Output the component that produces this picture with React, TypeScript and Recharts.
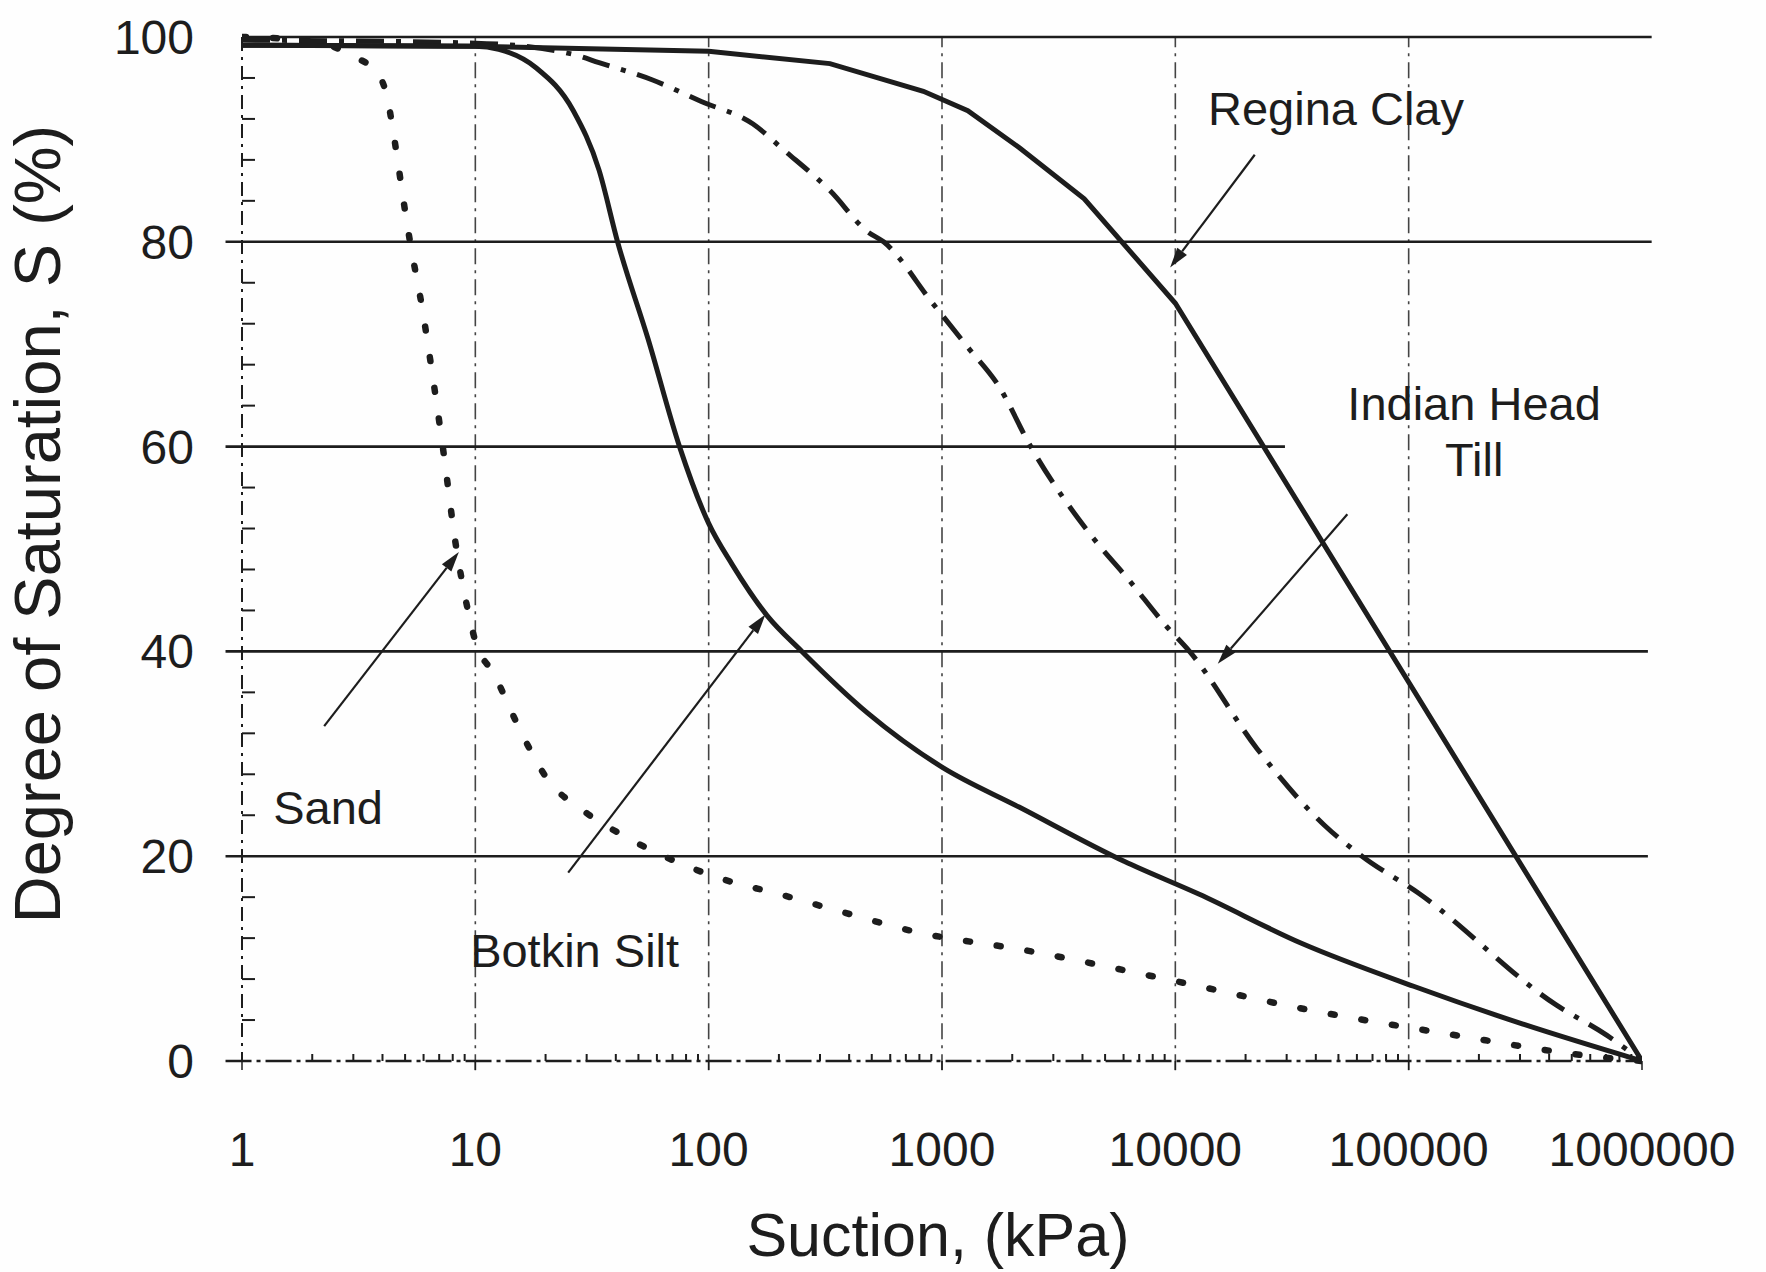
import React from 'react';
import { LineChart, Line, XAxis, YAxis, ReferenceLine, ReferenceDot } from 'recharts';

const INK = '#1d1d1d';
const FONT = '"Liberation Sans", Arial, Helvetica, sans-serif';

// Axis ticks
const suctionTicks = [1, 10, 100, 1000, 10000, 100000, 1000000];
const saturationTicks = [0, 20, 40, 60, 80, 100];
const minorSaturationTicks = [4, 8, 12, 16, 24, 28, 32, 36, 44, 48, 52, 56, 64, 68, 72, 76, 84, 88, 92, 96];
const minorSuctionTicks = suctionTicks.slice(0, -1).flatMap((d) => [2, 3, 4, 5, 6, 7, 8, 9].map((m) => m * d));

// Sand (dotted)
const sandSuction = [1, 2, 3, 3.8, 4.2, 4.5, 5, 5.25, 5.9, 6.6, 7.25, 8.3, 9.1, 10, 12, 16.2, 20.4, 28.8, 45.7, 72, 117, 200, 380, 776, 2290, 9550, 37150, 151000, 589000, 1000000];
const sandSaturation = [100, 99.6, 98.1, 96.5, 94, 90, 83, 80, 73.7, 66.5, 60, 50, 45, 41, 37.8, 31.5, 27.5, 24.5, 21.7, 19.5, 17.7, 16.3, 14.5, 12.6, 10.8, 7.9, 5.0, 2.6, 0.5, 0];

// Botkin Silt (solid)
const botkinSuction = [1, 10, 12.6, 18.2, 26.3, 33.9, 40.7, 55, 75, 100, 126, 178, 251, 479, 1000, 2140, 6030, 12600, 34700, 105000, 309000, 1000000];
const botkinSaturation = [99.2, 99.1, 98.8, 97, 92.8, 87, 80, 70.5, 60, 52.5, 48.5, 43.5, 40, 34, 28.7, 24.8, 19.5, 16.3, 11.5, 7.3, 3.6, 0];

// Indian Head Till (dash-dot)
const tillSuction = [1, 10, 26.3, 33.9, 57.5, 93, 155, 209, 331, 479, 562, 912, 1290, 1740, 2400, 4470, 6310, 9120, 11500, 22400, 43650, 63100, 110000, 427000, 708000, 1000000];
const tillSaturation = [99.7, 99.4, 98.3, 97.5, 95.8, 93.7, 91.5, 89, 85, 81, 80, 74, 69.7, 66, 60, 51, 47, 42.5, 40, 30.5, 23, 20, 16.4, 5.5, 2.5, 0];

// Regina Clay (solid, piecewise)
const reginaSuction = [1, 10, 100, 331, 832, 1290, 2140, 4070, 10000, 1000000];
const reginaSaturation = [99.2, 99.1, 98.6, 97.4, 94.7, 92.8, 89.2, 84.2, 74, 0];

// Horizontal rules: level, left end, right end (kPa)
const gridLevels = [100, 80, 60, 40, 20];
const gridStart = [1, 0.85, 0.85, 0.85, 0.85];
const gridEnd = [1100000, 1100000, 29500, 1060000, 1060000];
const verticalRules = [10, 100, 1000, 10000, 100000];

// Curve names and pointer arrows
const labelText = ['Regina Clay', 'Indian Head', 'Till', 'Sand', 'Botkin Silt'];
const labelSuction = [13800, 54600, 191000, 1.36, 9.5];
const labelSaturation = [91.4, 62.6, 57.1, 23.1, 9.2];
const labelAnchor = ['start', 'start', 'middle', 'start', 'start'];

const arrowTailSuction = [21900, 54600, 2.25, 25];
const arrowTailSaturation = [88.5, 53.4, 32.7, 18.4];
const arrowTipSuction = [9500, 15200, 8.5, 175];
const arrowTipSaturation = [77.5, 38.8, 49.7, 43.6];

const zip = (xs: number[], ys: number[]) => xs.map((suction, i) => ({ suction, saturation: ys[i] }));
const sand = zip(sandSuction, sandSaturation);
const botkin = zip(botkinSuction, botkinSaturation);
const till = zip(tillSuction, tillSaturation);
const regina = zip(reginaSuction, reginaSaturation);

const allSuctionTicks = [...suctionTicks, ...minorSuctionTicks].sort((a, b) => a - b);
const allSaturationTicks = [...saturationTicks, ...minorSaturationTicks].sort((a, b) => a - b);

const SuctionTick = (props: any) => {
  const { x, y, payload } = props;
  const v = payload.value;
  if (!suctionTicks.includes(v)) {
    return <line x1={x} x2={x} y1={y} y2={y - 7} stroke={INK} strokeWidth={2} />;
  }
  return (
    <g>
      <line x1={x} x2={x} y1={y} y2={y + 9} stroke={INK} strokeWidth={1.5} />
      <text x={x} y={y + 105} textAnchor="middle" fontSize={48} fontFamily={FONT} fill={INK}>
        {String(v)}
      </text>
    </g>
  );
};

const SaturationTick = (props: any) => {
  const { x, y, payload } = props;
  const v = payload.value;
  if (!saturationTicks.includes(v)) {
    return <line x1={x} x2={x + 13} y1={y} y2={y} stroke={INK} strokeWidth={2} />;
  }
  return (
    <text x={x - 48} y={y + 17} textAnchor="end" fontSize={48} fontFamily={FONT} fill={INK}>
      {String(v)}
    </text>
  );
};

const SuctionTitle = (props: any) => {
  const vb = props.viewBox || { x: 242, y: 1061, width: 1400, height: 100 };
  return (
    <text x={vb.x + vb.width / 2 - 4} y={vb.y + 195} textAnchor="middle" fontSize={61} fontFamily={FONT} fill={INK}>
      Suction, (kPa)
    </text>
  );
};

const SaturationTitle = (props: any) => {
  const vb = props.viewBox || { x: 0, y: 37, width: 242, height: 1024 };
  const cx = 60;
  const cy = vb.y + vb.height / 2 - 25;
  return (
    <text x={cx} y={cy} transform={`rotate(-90, ${cx}, ${cy})`} textAnchor="middle" fontSize={65} fontFamily={FONT} fill={INK}>
      Degree of Saturation, S (%)
    </text>
  );
};

const Arrow = (p: any) => {
  const x1 = Number(p.x1), y1 = Number(p.y1), x2 = Number(p.x2), y2 = Number(p.y2);
  const ang = Math.atan2(y2 - y1, x2 - x1);
  const L = 20;
  const W = 6;
  const bx = x2 - L * Math.cos(ang);
  const by = y2 - L * Math.sin(ang);
  const px = -Math.sin(ang) * W;
  const py = Math.cos(ang) * W;
  return (
    <g>
      <line x1={x1} y1={y1} x2={bx} y2={by} stroke={INK} strokeWidth={2.2} />
      <polygon points={`${x2},${y2} ${bx + px},${by + py} ${bx - px},${by - py}`} fill={INK} />
    </g>
  );
};

export default function App() {
  return (
    <div style={{ position: 'absolute', left: 0, top: 0, width: 1766, height: 1272, background: '#fefefe' }}>
      <LineChart width={1766} height={1272} margin={{ top: 37, right: 124, bottom: 111, left: 0 }}>
        <XAxis
          dataKey="suction"
          type="number"
          scale="log"
          domain={[1, 1000000]}
          allowDataOverflow
          ticks={allSuctionTicks}
          interval={0}
          height={100}
          axisLine={false}
          tickLine={false}
          tickSize={0}
          tickMargin={0}
          tick={<SuctionTick />}
          label={<SuctionTitle />}
        />
        <YAxis
          type="number"
          domain={[0, 100]}
          ticks={allSaturationTicks}
          interval={0}
          width={242}
          axisLine={{ stroke: INK, strokeWidth: 2, strokeDasharray: '14 6 3 6' }}
          tickLine={false}
          tickSize={0}
          tickMargin={0}
          tick={<SaturationTick />}
          label={<SaturationTitle />}
        />

        {verticalRules.map((v) => (
          <ReferenceLine
            key={`v${v}`}
            segment={[{ x: v, y: -0.9 }, { x: v, y: 100 }]}
            ifOverflow="visible"
            stroke="#444"
            strokeWidth={1.6}
            strokeDasharray="16 6 3 6"
          />
        ))}
        {gridLevels.map((lvl, i) => (
          <ReferenceLine
            key={`h${lvl}`}
            segment={[{ x: gridStart[i], y: lvl }, { x: gridEnd[i], y: lvl }]}
            ifOverflow="visible"
            stroke={INK}
            strokeWidth={2.6}
          />
        ))}
        <ReferenceLine
          segment={[{ x: 0.85, y: 0 }, { x: 1000000, y: 0 }]}
          ifOverflow="visible"
          stroke={INK}
          strokeWidth={2.4}
          strokeDasharray="26 5 4 5"
        />

        <Line data={sand} dataKey="saturation" type="monotone" stroke={INK} strokeWidth={6.5} strokeDasharray="4 27" strokeLinecap="round" dot={false} isAnimationActive={false} />
        <Line data={botkin} dataKey="saturation" type="monotone" stroke={INK} strokeWidth={5} dot={false} isAnimationActive={false} />
        <Line data={till} dataKey="saturation" type="monotone" stroke={INK} strokeWidth={5} strokeDasharray="28 12 5 12" dot={false} isAnimationActive={false} />
        <Line data={regina} dataKey="saturation" type="linear" stroke={INK} strokeWidth={5} dot={false} isAnimationActive={false} />

        {arrowTipSuction.map((tx, i) => (
          <ReferenceLine
            key={`a${i}`}
            segment={[{ x: arrowTailSuction[i], y: arrowTailSaturation[i] }, { x: tx, y: arrowTipSaturation[i] }]}
            ifOverflow="visible"
            shape={Arrow}
          />
        ))}
        {labelText.map((t, i) => (
          <ReferenceDot
            key={`l${i}`}
            x={labelSuction[i]}
            y={labelSaturation[i]}
            r={0}
            ifOverflow="visible"
            shape={(p: any) => (
              <text x={p.cx} y={p.cy} textAnchor={labelAnchor[i] as any} fontSize={47} fontFamily={FONT} fill={INK}>
                {t}
              </text>
            )}
          />
        ))}
      </LineChart>
    </div>
  );
}
